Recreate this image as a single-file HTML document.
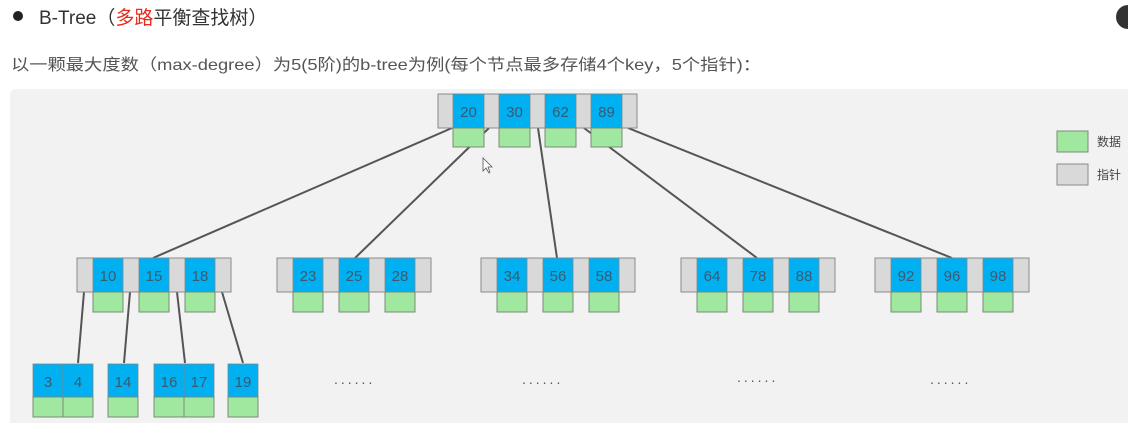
<!DOCTYPE html>
<html><head><meta charset="utf-8"><style>
html,body{margin:0;padding:0;background:#fff;width:1128px;height:423px;overflow:hidden}
svg{display:block}
text{font-family:"Liberation Sans","Noto Sans CJK SC",sans-serif}
.k{font-size:15px;fill:#3a5a70;text-anchor:middle}
.g{fill:#d9d9d9;stroke:#8a8a8a;stroke-width:1}
.b{fill:#00b0f0;stroke:#7a8a90;stroke-width:0.8}
.d{fill:#a0e8a0;stroke:#7a8a7a;stroke-width:1}
.l{stroke:#555;stroke-width:2;fill:none}
</style></head><body>
<svg width="1128" height="423" viewBox="0 0 1128 423" xmlns="http://www.w3.org/2000/svg">
<circle cx="18" cy="16" r="5" fill="#222"/>
<text x="39" y="24" font-size="19" fill="#333">B-Tree（<tspan fill="#e8291c">多路</tspan>平衡查找树）</text>
<text x="11" y="70" font-size="16" fill="#555" textLength="750" lengthAdjust="spacingAndGlyphs">以一颗最大度数（max-degree）为5(5阶)的b-tree为例(每个节点最多存储4个key，5个指针)：</text>
<circle cx="1128" cy="17" r="12" fill="#333"/>
<rect x="10" y="89" width="1130" height="340" rx="6" fill="#f2f2f2"/>
<!-- lines -->
<line class="l" x1="452" y1="128" x2="153" y2="258"/>
<line class="l" x1="489" y1="128" x2="355" y2="258"/>
<line class="l" x1="538" y1="128" x2="557" y2="258"/>
<line class="l" x1="584" y1="128" x2="757" y2="258"/>
<line class="l" x1="628" y1="128" x2="952" y2="258"/>
<line class="l" x1="84" y1="292" x2="78" y2="363"/>
<line class="l" x1="130" y1="292" x2="124" y2="363"/>
<line class="l" x1="177" y1="292" x2="185" y2="363"/>
<line class="l" x1="222" y1="292" x2="243" y2="363"/>
<!-- root -->
<rect class="g" x="438" y="94" width="199" height="34"/>
<g>
<rect class="b" x="453" y="94" width="31" height="34"/><rect class="d" x="453" y="128" width="31" height="19"/><text class="k" x="468.5" y="117">20</text>
<rect class="b" x="499" y="94" width="31" height="34"/><rect class="d" x="499" y="128" width="31" height="19"/><text class="k" x="514.5" y="117">30</text>
<rect class="b" x="545" y="94" width="31" height="34"/><rect class="d" x="545" y="128" width="31" height="19"/><text class="k" x="560.5" y="117">62</text>
<rect class="b" x="591" y="94" width="31" height="34"/><rect class="d" x="591" y="128" width="31" height="19"/><text class="k" x="606.5" y="117">89</text>
</g>
<!-- level 2 -->
<g id="n1">
<rect class="g" x="77" y="258" width="154" height="34"/>
<rect class="b" x="93" y="258" width="30" height="34"/><rect class="d" x="93" y="292" width="30" height="20"/><text class="k" x="108" y="281">10</text>
<rect class="b" x="139" y="258" width="30" height="34"/><rect class="d" x="139" y="292" width="30" height="20"/><text class="k" x="154" y="281">15</text>
<rect class="b" x="185" y="258" width="30" height="34"/><rect class="d" x="185" y="292" width="30" height="20"/><text class="k" x="200" y="281">18</text>
</g>
<g transform="translate(200,0)">
<rect class="g" x="77" y="258" width="154" height="34"/>
<rect class="b" x="93" y="258" width="30" height="34"/><rect class="d" x="93" y="292" width="30" height="20"/><text class="k" x="108" y="281">23</text>
<rect class="b" x="139" y="258" width="30" height="34"/><rect class="d" x="139" y="292" width="30" height="20"/><text class="k" x="154" y="281">25</text>
<rect class="b" x="185" y="258" width="30" height="34"/><rect class="d" x="185" y="292" width="30" height="20"/><text class="k" x="200" y="281">28</text>
</g>
<g transform="translate(404,0)">
<rect class="g" x="77" y="258" width="154" height="34"/>
<rect class="b" x="93" y="258" width="30" height="34"/><rect class="d" x="93" y="292" width="30" height="20"/><text class="k" x="108" y="281">34</text>
<rect class="b" x="139" y="258" width="30" height="34"/><rect class="d" x="139" y="292" width="30" height="20"/><text class="k" x="154" y="281">56</text>
<rect class="b" x="185" y="258" width="30" height="34"/><rect class="d" x="185" y="292" width="30" height="20"/><text class="k" x="200" y="281">58</text>
</g>
<g transform="translate(604,0)">
<rect class="g" x="77" y="258" width="154" height="34"/>
<rect class="b" x="93" y="258" width="30" height="34"/><rect class="d" x="93" y="292" width="30" height="20"/><text class="k" x="108" y="281">64</text>
<rect class="b" x="139" y="258" width="30" height="34"/><rect class="d" x="139" y="292" width="30" height="20"/><text class="k" x="154" y="281">78</text>
<rect class="b" x="185" y="258" width="30" height="34"/><rect class="d" x="185" y="292" width="30" height="20"/><text class="k" x="200" y="281">88</text>
</g>
<g transform="translate(798,0)">
<rect class="g" x="77" y="258" width="154" height="34"/>
<rect class="b" x="93" y="258" width="30" height="34"/><rect class="d" x="93" y="292" width="30" height="20"/><text class="k" x="108" y="281">92</text>
<rect class="b" x="139" y="258" width="30" height="34"/><rect class="d" x="139" y="292" width="30" height="20"/><text class="k" x="154" y="281">96</text>
<rect class="b" x="185" y="258" width="30" height="34"/><rect class="d" x="185" y="292" width="30" height="20"/><text class="k" x="200" y="281">98</text>
</g>
<!-- level 3 -->
<rect class="b" x="33" y="364" width="30" height="33"/><rect class="d" x="33" y="397" width="30" height="20"/><text class="k" x="48" y="387">3</text>
<rect class="b" x="63" y="364" width="30" height="33"/><rect class="d" x="63" y="397" width="30" height="20"/><text class="k" x="78" y="387">4</text>
<rect class="b" x="108" y="364" width="30" height="33"/><rect class="d" x="108" y="397" width="30" height="20"/><text class="k" x="123" y="387">14</text>
<rect class="b" x="154" y="364" width="30" height="33"/><rect class="d" x="154" y="397" width="30" height="20"/><text class="k" x="169" y="387">16</text>
<rect class="b" x="184" y="364" width="30" height="33"/><rect class="d" x="184" y="397" width="30" height="20"/><text class="k" x="199" y="387">17</text>
<rect class="b" x="228" y="364" width="30" height="33"/><rect class="d" x="228" y="397" width="30" height="20"/><text class="k" x="243" y="387">19</text>
<g font-size="14" fill="#555">
<text x="334" y="384" letter-spacing="3">......</text>
<text x="522" y="384" letter-spacing="3">......</text>
<text x="737" y="382" letter-spacing="3">......</text>
<text x="930" y="384" letter-spacing="3">......</text>
</g>
<!-- legend -->
<rect class="d" x="1057" y="131" width="31" height="21"/>
<text x="1097" y="146" font-size="12" fill="#444">数据</text>
<rect class="g" x="1057" y="164" width="31" height="21"/>
<text x="1097" y="179" font-size="12" fill="#444">指针</text>
<!-- cursor -->
<path d="M483 158 L483 171 L486 168 L489 173 L490 172 L488 167 L492 167 Z" fill="#fff" stroke="#555" stroke-width="0.8"/>
</svg>
</body></html>
